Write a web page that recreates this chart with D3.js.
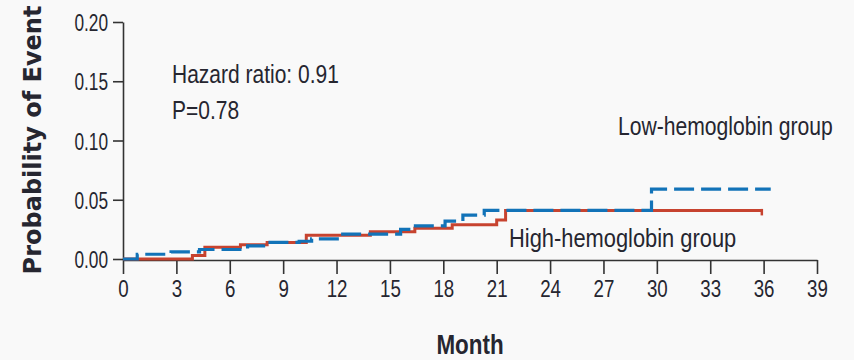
<!DOCTYPE html>
<html>
<head>
<meta charset="utf-8">
<script src="https://cdn.jsdelivr.net/npm/d3@7/dist/d3.min.js"></script>
<style>
  html, body { margin: 0; padding: 0; background: #f9f9f9; }
  svg { display: block; }
  .tick text { font-family: "Liberation Sans", sans-serif; fill: #262630; }
</style>
</head>
<body>
<svg id="chart" width="854" height="360"></svg>
<script>
// Cumulative probability of an event by month (step functions)
const highMonths = [0, 3.9, 4.6, 6.6, 8.1, 10.3, 13.9, 16.4, 18.5, 21.0, 21.5, 35.9];
const highProb   = [0, 0.003, 0.010, 0.012, 0.014, 0.020, 0.023, 0.026, 0.029, 0.033, 0.041, 0.041];

const lowMonths = [0, 0.8, 2.7, 4.3, 7.0, 7.9, 9.9, 10.6, 12.2, 15.6, 16.3, 18.1, 19.1, 20.3, 29.7, 36.4];
const lowProb   = [0, 0.004, 0.006, 0.008, 0.011, 0.014, 0.015, 0.017, 0.021, 0.025, 0.028, 0.032, 0.037, 0.041, 0.059, 0.059];

const xTicks = [0, 3, 6, 9, 12, 15, 18, 21, 24, 27, 30, 33, 36, 39];
const yTicks = [0, 0.05, 0.10, 0.15, 0.20];

const statsLines = ["Hazard ratio: 0.91", "P=0.78"];

const svg = d3.select("#chart");
const x = d3.scaleLinear().domain([0, 39]).range([123, 817]);
const y = d3.scaleLinear().domain([0, 0.20]).range([259, 22]);

const axisColor = "#333";
const textColor = "#262630";
const sansFont = "'Liberation Sans', Arial, sans-serif";

// squeeze text horizontally to get a condensed face
function condense(sel, sx) {
  sel.each(function () {
    const t = d3.select(this);
    const x0 = +t.attr("x") || 0;
    t.attr("x", x0 / sx).attr("transform", `scale(${sx},1)`);
  });
}

// y axis
const yAxis = svg.append("g")
  .attr("transform", "translate(123,0)")
  .call(d3.axisLeft(y).tickValues(yTicks).tickFormat(d3.format(".2f")).tickSize(10).tickSizeOuter(0).tickPadding(5));
yAxis.selectAll("text").style("font-size", "24px").attr("dy", "0.36em").call(condense, 0.72);

// x axis
const xAxis = svg.append("g")
  .attr("transform", "translate(0,260)")
  .call(d3.axisBottom(x).tickValues(xTicks).tickSize(14).tickSizeOuter(0).tickPadding(6));
xAxis.selectAll("text").style("font-size", "24px").call(condense, 0.78);

svg.selectAll(".domain, .tick line").attr("stroke", axisColor).attr("stroke-width", 1.6);

// step curves
const line = d3.line().x(d => x(d[0])).y(d => y(d[1])).curve(d3.curveStepAfter);
const highData = highMonths.map((m, i) => [m, highProb[i]]);
const lowData = lowMonths.map((m, i) => [m, lowProb[i]]);

const red = "#c7432f", blue = "#1273b8";

svg.append("path").datum(highData)
  .attr("d", line).attr("fill", "none").attr("stroke", red).attr("stroke-width", 3);

// censoring tick at the end of the high-hemoglobin curve
const lastHigh = highData[highData.length - 1];
svg.append("line")
  .attr("x1", x(lastHigh[0])).attr("x2", x(lastHigh[0]))
  .attr("y1", y(lastHigh[1]) - 1.5).attr("y2", y(lastHigh[1]) + 5)
  .attr("stroke", red).attr("stroke-width", 2.5);

svg.append("path").datum(lowData)
  .attr("d", line).attr("fill", "none").attr("stroke", blue).attr("stroke-width", 3.2)
  .attr("stroke-dasharray", "20,7");

// annotations
svg.selectAll("text.stat").data(statsLines).enter().append("text")
  .attr("class", "stat")
  .attr("x", 172).attr("y", (d, i) => 83 + i * 36)
  .style("font-family", sansFont).style("font-size", "25px").style("fill", textColor)
  .text(d => d)
  .call(condense, 0.84);

svg.append("text").attr("x", 618).attr("y", 135)
  .style("font-family", sansFont).style("font-size", "25px").style("fill", textColor)
  .text("Low-hemoglobin group")
  .call(condense, 0.845);

svg.append("text").attr("x", 509).attr("y", 247)
  .style("font-family", sansFont).style("font-size", "25px").style("fill", textColor)
  .text("High-hemoglobin group")
  .call(condense, 0.875);

// axis titles
svg.append("text")
  .attr("transform", "translate(41,140) rotate(-90)")
  .attr("text-anchor", "middle")
  .style("font-family", "'DejaVu Sans', sans-serif").style("font-weight", "bold")
  .style("font-size", "24px").style("fill", textColor)
  .text("Probability of Event");

svg.append("text")
  .attr("x", 470).attr("y", 354).attr("text-anchor", "middle")
  .style("font-family", sansFont).style("font-weight", "bold")
  .style("font-size", "27px").style("fill", textColor)
  .text("Month")
  .call(condense, 0.83);
</script>
</body>
</html>
